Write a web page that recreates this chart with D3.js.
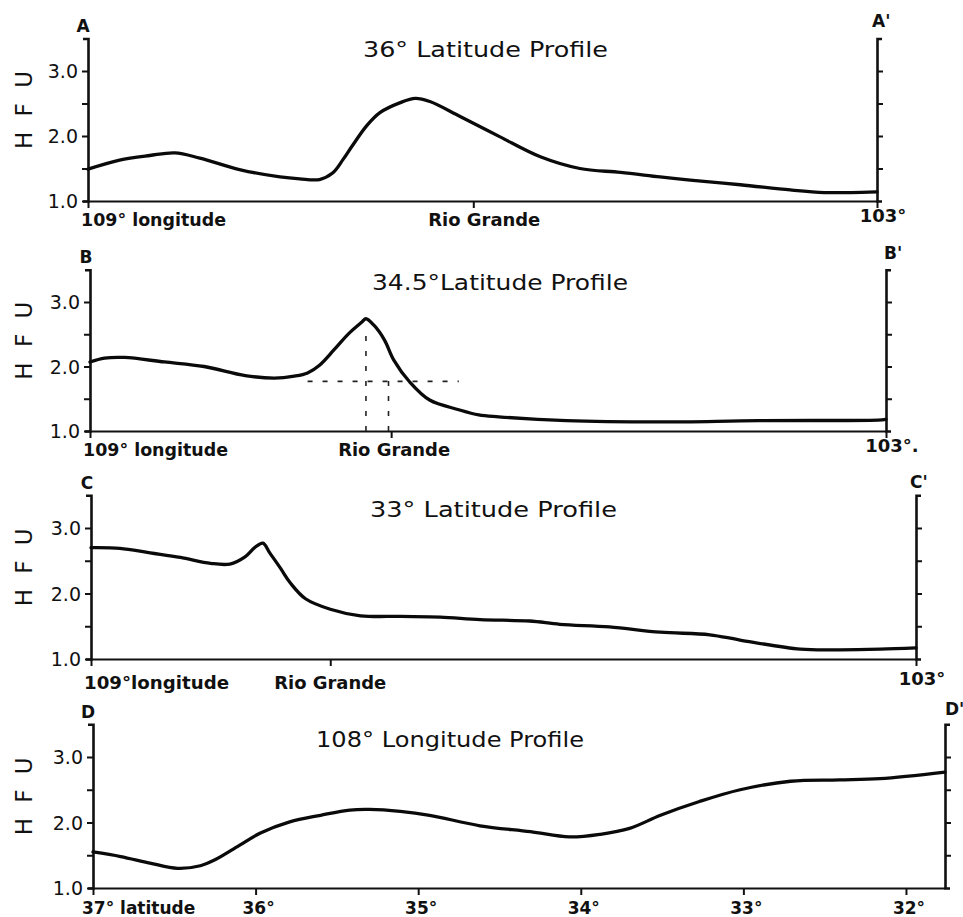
<!DOCTYPE html>
<html><head><meta charset="utf-8">
<script src="https://cdn.jsdelivr.net/npm/d3@7/dist/d3.min.js"></script>
<style>
body{margin:0;background:#fff}
svg{display:block}
</style>
</head><body>
<svg id="c" width="963" height="917"></svg>
<script>
// ---------------- DATA ----------------
// A: 36° latitude profile (x = longitude W, y = HFU)
const lonA = [109.00,108.76,108.53,108.34,108.15,107.84,107.54,107.39,107.24,107.14,107.06,106.99,106.88,106.78,106.63,106.51,106.40,106.17,105.87,105.56,105.26,104.95,104.65,104.42,104.04,103.66,103.40,103.20,103.00];
const hfuA = [1.49,1.63,1.70,1.74,1.66,1.48,1.37,1.34,1.33,1.43,1.64,1.85,2.16,2.36,2.51,2.58,2.53,2.30,1.99,1.68,1.50,1.44,1.37,1.32,1.25,1.17,1.13,1.13,1.14];
// B: 34.5° latitude profile
const lonB = [109.00,108.89,108.74,108.44,108.14,107.83,107.61,107.46,107.36,107.27,107.16,107.05,106.95,106.92,106.86,106.78,106.71,106.59,106.44,106.22,106.07,105.92,105.41,104.71,103.96,103.06,103.00];
const hfuB = [2.07,2.13,2.14,2.07,2.00,1.86,1.82,1.85,1.90,2.02,2.26,2.51,2.69,2.74,2.64,2.41,2.10,1.76,1.48,1.33,1.25,1.22,1.16,1.14,1.16,1.17,1.18];
// C: 33° latitude profile
const lonC = [109.00,108.79,108.57,108.35,108.13,107.99,107.88,107.81,107.75,107.70,107.62,107.55,107.44,107.26,107.04,106.75,106.46,106.17,105.81,105.59,105.23,104.86,104.50,104.28,103.84,103.55,103.26,103.00];
const hfuC = [2.70,2.69,2.62,2.55,2.46,2.45,2.56,2.70,2.77,2.62,2.38,2.16,1.92,1.76,1.66,1.65,1.64,1.60,1.58,1.53,1.49,1.41,1.37,1.29,1.15,1.14,1.15,1.17];
// D: 108° longitude profile (x = latitude N)
const latD = [37.00,36.83,36.65,36.48,36.34,36.25,36.10,35.97,35.79,35.60,35.42,35.30,35.11,34.93,34.62,34.31,34.07,33.88,33.70,33.51,33.27,33.02,32.71,32.41,32.16,31.76];
const hfuD = [1.55,1.48,1.38,1.30,1.34,1.43,1.65,1.84,2.01,2.11,2.19,2.20,2.17,2.11,1.95,1.86,1.78,1.82,1.91,2.11,2.32,2.50,2.63,2.65,2.67,2.77];

// Rio Grande crossing (longitude) for the latitude profiles
const rioGrandeLon = [106.07, 106.73, 107.26];
// Dashed construction lines on profile B: [lon1, hfu1, lon2, hfu2]
const dashedB = [[106.92,1.0,106.92,2.62],[106.75,1.0,106.75,1.90],[107.36,1.77,106.22,1.77]];

const hfuTicks = [1.0,1.5,2.0,2.5,3.0];
const hfuTickLabels = ["1.0","","2.0","","3.0"];
const hfuRightTicks = [1.5,2.0,2.5,3.0];
const lonDomain = [109,103];
const latTicks = [37,36,35,34,33,32];
const latTickLabels = ["37° latitude","36°","35°","34°","33°","32°"];
const titles = ["36° Latitude Profile","34.5°Latitude Profile","33° Latitude Profile","108° Longitude Profile"];
const cornerLabels = [["A","A'"],["B","B'"],["C","C'"],["D","D'"]];
const lonStartLabel = ["109° longitude","109° longitude","109°longitude"];
const lonEndLabel = ["103°","103°.","103°"];
const riverLabel = "Rio Grande";
const yLabel = "HFU";

// ---------------- LAYOUT ----------------
const layout = [
  {left:88, right:877, y1:201, y3:71, title:[363,608,57], cL:[83,32], cR:[872,27], bl:226, rgOff:11},
  {left:90, right:886, y1:431, y3:302, title:[372,628,290], cL:[86,263], cR:[884,259], bl:456, rgOff:3},
  {left:91, right:916, y1:659, y3:528, title:[370,617,517], cL:[87,489], cR:[910,488], bl:689, rgOff:0},
  {left:93, right:945, y1:888, y3:757, title:[316,584,747], cL:[88,718], cR:[945,715], bl:914}
];
const FONT = "'DejaVu Sans', sans-serif";
const svg = d3.select("#c");
svg.append("rect").attr("width",963).attr("height",917).attr("fill","#fff");

const series = [[lonA,hfuA],[lonB,hfuB],[lonC,hfuC],[latD,hfuD]];

layout.forEach((p,i) => {
  const isD = i === 3;
  const x = isD
    ? d3.scaleLinear().domain([37, 31.76]).range([p.left, p.right])
    : d3.scaleLinear().domain(lonDomain).range([p.left, p.right]);
  const y = d3.scaleLinear().domain([1,3]).range([p.y1, p.y3]);
  const yA = d3.scaleLinear().domain([1,3.5]).range([p.y1, y(3.5)]);
  const g = svg.append("g").attr("font-family", FONT).attr("fill","#111");

  // left axis
  g.append("g").attr("transform",`translate(${p.left},0)`)
    .call(d3.axisLeft(yA).tickValues(hfuTicks).tickSize(6).tickSizeOuter(5).tickPadding(4)
      .tickFormat((d,k)=>hfuTickLabels[k]))
    .call(a=>{
      a.attr("font-family",FONT).attr("font-size",19);
      a.select(".domain").attr("stroke","#111").attr("stroke-width",2.6);
      a.selectAll(".tick line").attr("stroke","#111").attr("stroke-width",2);
      a.selectAll(".tick text").attr("fill","#111").attr("dy","0.36em");
    });
  // right axis
  g.append("g").attr("transform",`translate(${p.right},0)`)
    .call(d3.axisRight(yA).tickValues(hfuRightTicks).tickSize(6).tickSizeOuter(5).tickFormat(""))
    .call(a=>{
      a.select(".domain").attr("stroke","#111").attr("stroke-width",2.6);
      a.selectAll(".tick line").attr("stroke","#111").attr("stroke-width",2);
    });
  // bottom axis
  const xt = isD ? latTicks : [lonDomain[0], rioGrandeLon[i], lonDomain[1]];
  g.append("g").attr("transform",`translate(0,${p.y1})`)
    .call(d3.axisBottom(x).tickValues(xt).tickSize(7).tickSizeOuter(0).tickFormat(""))
    .call(a=>{
      a.select(".domain").attr("stroke","#111").attr("stroke-width",2.2);
      a.selectAll(".tick line").attr("stroke","#111").attr("stroke-width",2);
    });

  // dashed construction lines (B)
  if (i === 1) {
    g.selectAll("line.dash").data(dashedB).join("line")
      .attr("x1",d=>x(d[0])).attr("y1",d=>y(d[1]))
      .attr("x2",d=>x(d[2])).attr("y2",d=>y(d[3]))
      .attr("stroke","#222").attr("stroke-width",1.6).attr("stroke-dasharray","5,10");
  }

  // profile curve
  const [xs, ys] = series[i];
  const pts = xs.map((v,k)=>[v, ys[k]]);
  g.append("path").datum(pts)
    .attr("d", d3.line().x(d=>x(d[0])).y(d=>y(d[1])).curve(d3.curveCatmullRom.alpha(0.5)))
    .attr("fill","none").attr("stroke","#0a0a0a").attr("stroke-width",3.3)
    .attr("stroke-linejoin","round").attr("stroke-linecap","round");

  // title
  g.append("text").attr("x",p.title[0]).attr("y",p.title[2])
    .attr("font-size",21).attr("textLength",p.title[1]-p.title[0]).attr("lengthAdjust","spacingAndGlyphs")
    .text(titles[i]);
  // corner letters
  g.append("text").attr("x",p.cL[0]).attr("y",p.cL[1]).attr("text-anchor","middle")
    .attr("font-size",17).attr("font-weight","bold").text(cornerLabels[i][0]);
  g.append("text").attr("x",p.cR[0]).attr("y",p.cR[1])
    .attr("font-size",17).attr("font-weight","bold").text(cornerLabels[i][1]);
  // HFU
  const cy = y(2.4);
  g.append("text").attr("transform",`translate(32,${cy}) rotate(-90)`)
    .attr("text-anchor","middle").attr("font-size",23)
    .attr("textLength",78).attr("lengthAdjust","spacing").text(yLabel);

  // x labels
  if (!isD) {
    g.append("text").attr("x",p.left-7).attr("y",p.bl).attr("font-size",17).attr("font-weight","600")
      .attr("textLength",145).attr("lengthAdjust","spacingAndGlyphs").text(lonStartLabel[i]);
    g.append("text").attr("x",x(rioGrandeLon[i])+p.rgOff).attr("y",p.bl).attr("text-anchor","middle")
      .attr("font-size",17).attr("font-weight","600")
      .attr("textLength",112).attr("lengthAdjust","spacingAndGlyphs").text(riverLabel);
    g.append("text").attr("x",x(lonDomain[1])+6).attr("y",p.bl-4).attr("text-anchor","middle")
      .attr("font-size",18).attr("font-weight","600").text(lonEndLabel[i]);
  } else {
    g.selectAll("text.lat").data(latTicks).join("text")
      .attr("x",(d,k)=> k===0 ? x(d)-11 : x(d)+3)
      .attr("y",p.bl).attr("text-anchor",(d,k)=>k===0?"start":"middle")
      .attr("font-size",17).attr("font-weight","600")
      .text((d,k)=>latTickLabels[k]);
  }
});
</script>
</body></html>
